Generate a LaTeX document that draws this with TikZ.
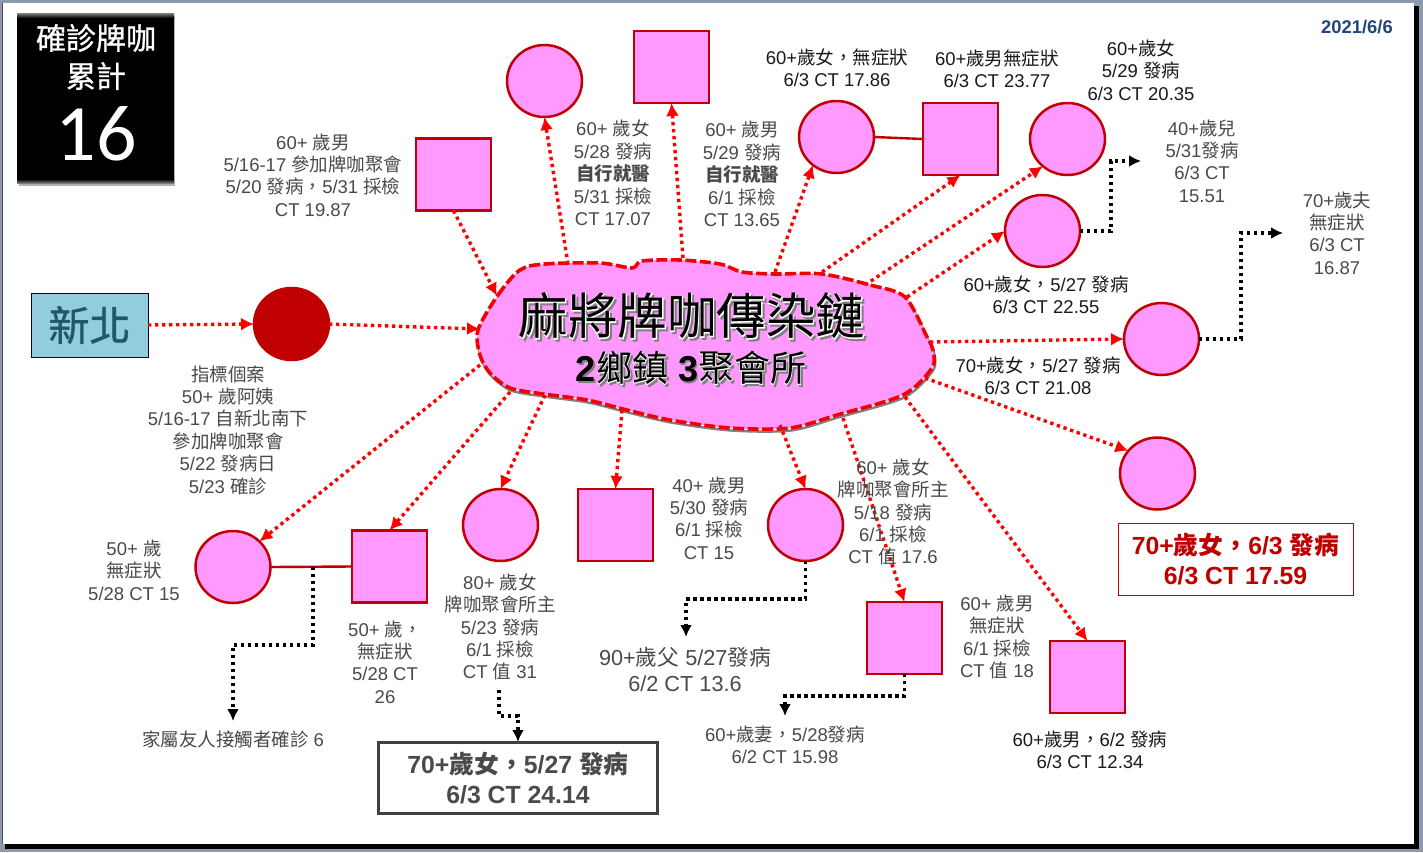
\documentclass[tikz,border=0pt]{standalone}
\usepackage{fontspec}
\usetikzlibrary{shapes.geometric,arrows.meta}
\setmainfont{Liberation Sans}
\newfontfamily\cjk{Noto Sans CJK TC}
\newfontfamily\cjkfat[FakeBold=3]{Noto Sans CJK TC}
\newfontfamily\cjksemi[FakeBold=1]{Noto Sans CJK TC}
\newfontfamily\carl{Carlito}
\newcommand{\C}[1]{{\cjk #1}}
\definecolor{pinkfill}{HTML}{FF99FF}
\definecolor{darkr}{HTML}{C00000}
\definecolor{frameb}{HTML}{8E99B0}
\definecolor{gtext}{HTML}{4A4A4A}
\definecolor{ktext}{HTML}{1A1A1A}
\definecolor{cityf}{HTML}{92CDDC}
\definecolor{cityt}{HTML}{215868}
\definecolor{dateb}{HTML}{1F497D}
\newcommand{\glow}[1]{\rlap{\raisebox{-2pt}{\kern2pt\textcolor{gray}{\mdseries\cjkfat #1}}}\rlap{\textcolor{white}{\mdseries\cjkfat #1}}{\mdseries\cjk #1}}
\newcommand{\blobpts}{(478,330)(498,295)(520,270)(545,264)(600,263)(632,268)(642,261)(680,260)(720,264)(742,272)(775,274)(822,274)(870,285)(905,297)(927,337)(933,350)(932,368)(903,395)(837,415)(790,428)(730,428)(670,420)(627,410)(587,400)(543,394)(510,388)(490,373)(480,355)}
\tikzset{
 x=1pt,y=-1pt,
 circ/.style={ellipse,draw=darkr,line width=2.5pt,fill=pinkfill,minimum width=75pt,minimum height=72pt,inner sep=0pt,outer sep=0pt},
 sq/.style={rectangle,draw=darkr,line width=2.5pt,fill=pinkfill,minimum width=75pt,minimum height=72pt,inner sep=0pt,outer sep=0pt},
 redarrow/.style={draw=red,line width=3.4pt,dash pattern=on 3.4pt off 3.6pt,-{Latex[length=13pt,width=13pt]}},
 blackarrow/.style={draw=black,line width=3.4pt,dash pattern=on 3.4pt off 3.6pt,-{Latex[length=12pt,width=12pt]}},
 solidlink/.style={draw=darkr,line width=2.4pt},
 gt/.style={text=gtext,align=center,inner sep=0pt,font=\fontsize{18.5}{22.4}\selectfont},
 kt/.style={text=ktext,align=center,inner sep=0pt,font=\fontsize{18.5}{22.4}\selectfont},
}
\begin{document}
\begin{tikzpicture}
\useasboundingbox (0,0) rectangle (1423,852);
% frame
\fill[frameb] (0,0) rectangle (1423,852);
\fill[black] (5,6) rectangle (1419,849);
\fill[white] (3,3) rectangle (1414,844);
\draw[black!70,line width=.8pt] (2.5,3) -- (2.5,844);
% title box
\fill[black!30] (18.5,16) rectangle (175,185.5);
\node[rectangle,fill=black,minimum width=157pt,minimum height=170pt,inner sep=0pt,outer sep=0pt] (title) at (95.5,98.5) {};
\shade[top color=black!55,bottom color=black] (17,13.5) rectangle (174,18);
\shade[top color=black,bottom color=black!45] (17,179) rectangle (174,183.5);
\node[text=white,inner sep=0pt,font=\fontsize{30}{30}\selectfont] (t1) at (96,38) {{\cjksemi 確診牌咖}};
\node[text=white,inner sep=0pt,font=\fontsize{30}{30}\selectfont] (t2) at (96,76) {{\cjksemi 累計}};
\node[text=white,inner sep=0pt,font=\fontsize{80}{80}\carl] (t3) at (96,134) {16};
\node[text=dateb,inner sep=0pt,font=\fontsize{18.4}{18}\bfseries] (date) at (1357,27) {2021/6/6};
% blob
\draw[gray,line width=2.4pt,line join=round,shift={(1,2.5)}] plot[smooth cycle,tension=.5] coordinates {\blobpts};
\draw[red!95!black,fill=pinkfill,line width=3.6pt,dash pattern=on 11pt off 3.5pt,line join=round] plot[smooth cycle,tension=.5] coordinates {\blobpts};
\node[inner sep=0pt,font=\fontsize{49.5}{49.5}\selectfont] (bt1) at (692,317) {\glow{麻將牌咖傳染鏈}};
\node[inner sep=0pt,font=\fontsize{36}{36}\selectfont\bfseries] (bt2) at (691,369) {\rlap{\raisebox{-1.5pt}{\kern1.5pt\textcolor{gray}{2}}}2\glow{鄉鎮} \rlap{\raisebox{-1.5pt}{\kern1.5pt\textcolor{gray}{3}}}3\glow{聚會所}};
% blob ports
\coordinate (pA) at (497,296);
\coordinate (pIdx) at (480,329);
\coordinate (pB) at (568,264);
\coordinate (pC) at (683,258);
\coordinate (pD) at (775,272);
\coordinate (pE) at (822,272);
\coordinate (pF) at (865,285);
\coordinate (pG) at (907,297);
\coordinate (pH) at (930,342);
\coordinate (pI) at (925,378);
\coordinate (pJ) at (905,397);
\coordinate (pK) at (843,418);
\coordinate (pL) at (780,425);
\coordinate (pM) at (622,410);
\coordinate (pN) at (545,395);
\coordinate (pO) at (510,392);
\coordinate (pP) at (480,365);
% shapes
\node[rectangle,draw=black!70!blue,line width=1pt,fill=cityf,minimum width=117pt,minimum height=64pt,inner sep=0pt,outer sep=0pt,text=cityt,font=\fontsize{41}{41}\selectfont] (city) at (89.5,325) {{\cjksemi 新北}};
\node[circ,draw=darkr,fill=darkr] (idx) at (291.5,324) {};
\node[sq] (sqA) at (453.5,174.5) {};
\node[circ] (cB) at (544.5,81) {};
\node[sq] (sqC) at (671.5,67) {};
\node[circ] (cD) at (836.5,137) {};
\node[sq] (sqE) at (960.5,139) {};
\node[circ] (cF) at (1067.5,139) {};
\node[circ] (cG) at (1042.5,231) {};
\node[circ] (cH) at (1161.5,339) {};
\node[circ] (cI) at (1157.5,473.5) {};
\node[sq] (sqJ) at (1087.5,677) {};
\node[sq] (sqK) at (904.5,638) {};
\node[circ] (cL) at (805.5,525) {};
\node[sq] (sqM) at (615.5,525) {};
\node[circ] (cN) at (500.5,525) {};
\node[sq] (sqO) at (389.5,566.5) {};
\node[circ] (cP) at (233,567) {};
% red arrows
\draw[redarrow] (city.east) -- (idx.west);
\draw[redarrow] (idx.east) -- (pIdx);
\draw[redarrow] (sqA.south) -- (pA);
\draw[redarrow] (pB) -- (cB.south);
\draw[redarrow] (pC) -- (sqC.south);
\draw[redarrow] (pD) -- (cD.230);
\draw[redarrow] (pE) -- (sqE.south);
\draw[redarrow] (pF) -- (cF.228);
\draw[redarrow] (pG) -- (cG.west);
\draw[redarrow] (pH) -- (cH.west);
\draw[redarrow] (pI) -- (cI.142);
\draw[redarrow] (pJ) -- (sqJ.north);
\draw[redarrow] (pK) -- (sqK.north);
\draw[redarrow] (pL) -- (cL.north);
\draw[redarrow] (pM) -- (sqM.north);
\draw[redarrow] (pN) -- (cN.north);
\draw[redarrow] (pO) -- (sqO.north);
\draw[redarrow] (pP) -- (cP.44);
% solid links
\draw[solidlink] (cD.east) -- (sqE.west);
\draw[solidlink] (cP.east) -- (sqO.west);
% black arrows
\coordinate (eG) at (1141,161);
\coordinate (eH) at (1283,233);
\coordinate (sJ) at (313,567);
\coordinate (eJ) at (233,721);
\coordinate (sN) at (499,690);
\coordinate (eN) at (518,742);
\coordinate (eL) at (686,637);
\coordinate (eK) at (785,716);
\draw[blackarrow] (cG.east) -- (1111,231) |- (eG);
\draw[blackarrow] (cH.east) -- (1241,339) |- (eH);
\draw[blackarrow] (sJ) -- (313,645) -| (eJ);
\draw[blackarrow] (sN) -- (499,716) -| (eN);
\draw[blackarrow] (cL.south) -- (805.5,599) -| (eL);
\draw[blackarrow] (sqK.south) -- (904.5,696) -| (eK);
% labels
\node[gt] (l1) at (313,175) {60+ \C{歲男}\\5/16-17 \C{參加牌咖聚會}\\5/20 \C{發病，}5/31 \C{採檢}\\CT 19.87};
\node[gt] (l2) at (228,430) {\C{指標個案}\\50+ \C{歲阿姨}\\5/16-17 \C{自新北南下}\\\C{參加牌咖聚會}\\5/22 \C{發病日}\\5/23 \C{確診}};
\node[gt] (l3) at (613,173) {60+ \C{歲女}\\5/28 \C{發病}\\\textbf{\C{自行就醫}}\\5/31 \C{採檢}\\CT 17.07};
\node[gt] (l4) at (742,174) {60+ \C{歲男}\\5/29 \C{發病}\\\textbf{\C{自行就醫}}\\6/1 \C{採檢}\\CT 13.65};
\node[kt] (l5) at (837,67.5) {60+\C{歲女，無症狀}\\6/3 CT 17.86};
\node[kt] (l6) at (997,68.5) {60+\C{歲男無症狀}\\6/3 CT 23.77};
\node[kt] (l7) at (1141,70) {60+\C{歲女}\\5/29 \C{發病}\\6/3 CT 20.35};
\node[gt] (l8) at (1202,161) {40+\C{歲兒}\\5/31\C{發病}\\6/3 CT\\15.51};
\node[gt] (l9) at (1337,233) {70+\C{歲夫}\\\C{無症狀}\\6/3 CT\\16.87};
\node[kt] (l10) at (1046,295) {60+\C{歲女，}5/27 \C{發病}\\6/3 CT 22.55};
\node[kt] (l11) at (1038,376) {70+\C{歲女，}5/27 \C{發病}\\6/3 CT 21.08};
\node[rectangle,draw=darkr,line width=1pt,minimum width=235pt,minimum height=72pt,inner sep=0pt,outer sep=0pt,text=darkr,align=center,font=\fontsize{24.8}{30}\selectfont\bfseries] (l12) at (1235.5,559) {70+\C{歲女，}6/3 \C{發病}\\6/3 CT 17.59};
\node[gt] (l13) at (997,637) {60+ \C{歲男}\\\C{無症狀}\\6/1 \C{採檢}\\CT \C{值} 18};
\node[gt] (l14) at (893,512) {60+ \C{歲女}\\\C{牌咖聚會所主}\\5/18 \C{發病}\\6/1 \C{採檢}\\CT \C{值} 17.6};
\node[gt] (l15) at (709,518) {40+ \C{歲男}\\5/30 \C{發病}\\6/1 \C{採檢}\\CT 15};
\node[gt] (l16) at (134,570) {50+ \C{歲}\\\C{無症狀}\\5/28 CT 15};
\node[gt] (l17) at (385,662) {50+ \C{歲，}\\\C{無症狀}\\5/28 CT\\26};
\node[gt] (l18) at (500,627) {80+ \C{歲女}\\\C{牌咖聚會所主}\\5/23 \C{發病}\\6/1 \C{採檢}\\CT \C{值} 31};
\node[text=gtext,align=center,inner sep=0pt,font=\fontsize{21.7}{26}\selectfont] (l19) at (685,669) {90+\C{歲父} 5/27\C{發病}\\6/2 CT 13.6};
\node[gt] (l20) at (785,745) {60+\C{歲妻，}5/28\C{發病}\\6/2 CT 15.98};
\node[kt] (l21) at (1090,750) {60+\C{歲男，}6/2 \C{發病}\\6/3 CT 12.34};
\node[gt] (l22) at (233,739) {\C{家屬友人接觸者確診} 6};
\node[rectangle,draw=black!75,line width=3pt,minimum width=279pt,minimum height=71pt,inner sep=0pt,outer sep=0pt,text=gtext,align=center,font=\fontsize{24.8}{30}\selectfont\bfseries] (l23) at (518,778) {70+\C{歲女，}5/27 \C{發病}\\6/3 CT 24.14};
\end{tikzpicture}
\end{document}
